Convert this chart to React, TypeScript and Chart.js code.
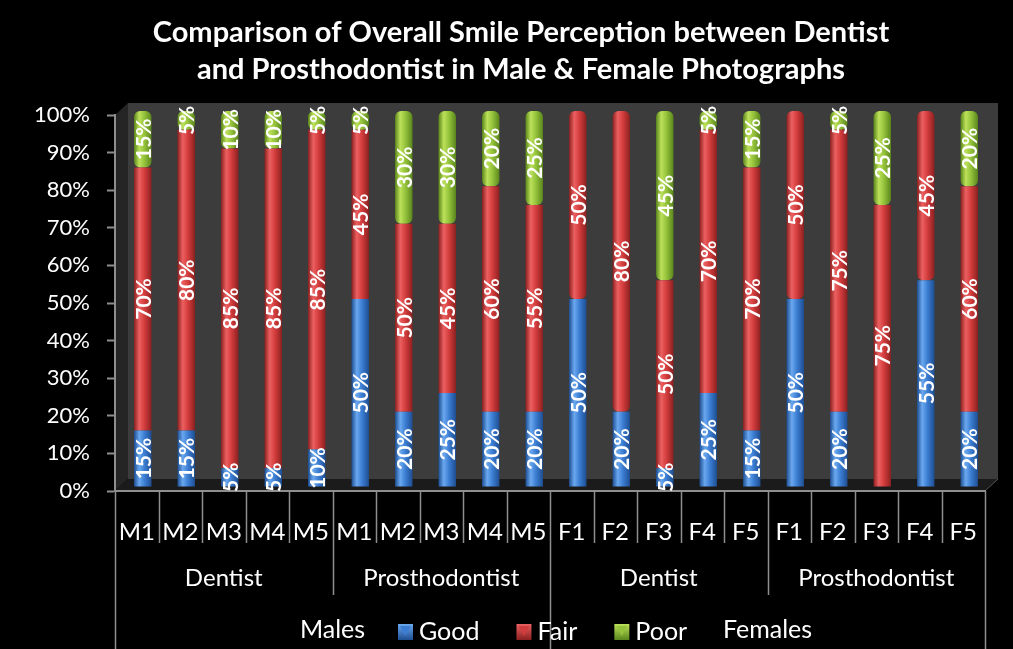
import React, { useEffect, useRef } from 'react';
import { Chart, registerables } from 'chart.js';

Chart.register(...registerables);

// ---- data ----
const categories = ['M1', 'M2', 'M3', 'M4', 'M5', 'M1', 'M2', 'M3', 'M4', 'M5', 'F1', 'F2', 'F3', 'F4', 'F5', 'F1', 'F2', 'F3', 'F4', 'F5'];
const evaluatorGroups = ['Dentist', 'Prosthodontist', 'Dentist', 'Prosthodontist'];
const genderGroups = ['Males', 'Females'];
const seriesNames = ['Good', 'Fair', 'Poor'];
const goodValues = [15, 15, 5, 5, 10, 50, 20, 25, 20, 20, 50, 20, 5, 25, 15, 50, 20, 0, 55, 20];
const fairValues = [70, 80, 85, 85, 85, 45, 50, 45, 60, 55, 50, 80, 50, 70, 70, 50, 75, 75, 45, 60];
const poorValues = [15, 5, 10, 10, 5, 5, 30, 30, 20, 25, 0, 0, 45, 5, 15, 0, 5, 25, 0, 20];
const titleLines = ['Comparison of Overall Smile Perception between Dentist', 'and Prosthodontist in Male & Female Photographs'];

// ---- style ----
const FONT = 'Lato, "Open Sans", "DejaVu Sans", sans-serif';
const palette = [
  { light: '#6aa8ef', mid: '#3b7dd2', dark: '#1e4e92' },
  { light: '#ec6061', mid: '#d33c3c', dark: '#8c2020' },
  { light: '#bde15a', mid: '#94c23b', dark: '#5a861c' },
];
const DEPTH_X = 13;
const DEPTH_Y = -12;
const BAR_SHIFT_X = 6;
const BAR_SHIFT_Y = -4;
const BAR_FRACTION = 0.4;
const LINE_GRAY = '#8e8e8e';

const makeFill = (i: number) => (c: any) => {
  const p = palette[i];
  const chart = c.chart;
  if (c.type !== 'data' || !chart.chartArea || !chart.scales.x) return p.mid;
  const xs = chart.scales.x;
  const x = xs.getPixelForValue(c.dataIndex);
  const half = ((xs.width / categories.length) * BAR_FRACTION) / 2;
  const g = chart.ctx.createLinearGradient(x - half, 0, x + half, 0);
  g.addColorStop(0, p.dark);
  g.addColorStop(0.3, p.light);
  g.addColorStop(0.6, p.mid);
  g.addColorStop(1, p.dark);
  return g;
};

const decorPlugin = {
  id: 'decor',
  beforeDraw(chart: any) {
    const { ctx, chartArea: a } = chart;
    ctx.save();
    ctx.fillStyle = '#000';
    ctx.fillRect(0, 0, chart.width, chart.height);
    // back wall
    ctx.fillStyle = '#3c3c3c';
    ctx.fillRect(a.left + DEPTH_X, a.top + DEPTH_Y, a.right - a.left, a.bottom - a.top);
    // side wall
    ctx.fillStyle = '#252525';
    ctx.beginPath();
    ctx.moveTo(a.left, a.top);
    ctx.lineTo(a.left + DEPTH_X, a.top + DEPTH_Y);
    ctx.lineTo(a.left + DEPTH_X, a.bottom + DEPTH_Y);
    ctx.lineTo(a.left, a.bottom);
    ctx.closePath();
    ctx.fill();
    // floor
    ctx.fillStyle = '#1b1b1b';
    ctx.beginPath();
    ctx.moveTo(a.left, a.bottom);
    ctx.lineTo(a.right, a.bottom);
    ctx.lineTo(a.right + DEPTH_X, a.bottom + DEPTH_Y);
    ctx.lineTo(a.left + DEPTH_X, a.bottom + DEPTH_Y);
    ctx.closePath();
    ctx.fill();
    ctx.strokeStyle = '#555';
    ctx.lineWidth = 1;
    ctx.beginPath();
    ctx.moveTo(a.right, a.bottom);
    ctx.lineTo(a.right + DEPTH_X, a.bottom + DEPTH_Y);
    ctx.stroke();
    ctx.restore();
  },
  beforeDatasetsDraw(chart: any) {
    chart.ctx.save();
    chart.ctx.translate(BAR_SHIFT_X, BAR_SHIFT_Y);
  },
  afterDatasetsDraw(chart: any) {
    const ctx = chart.ctx;
    ctx.save();
    ctx.font = `bold 21px ${FONT}`;
    ctx.fillStyle = '#ffffff';
    ctx.textAlign = 'center';
    ctx.textBaseline = 'middle';
    chart.data.datasets.forEach((ds: any, di: number) => {
      const meta = chart.getDatasetMeta(di);
      meta.data.forEach((el: any, i: number) => {
        const v = ds.data[i];
        if (!v) return;
        const { x, y, base } = el.getProps(['x', 'y', 'base'], true);
        ctx.save();
        ctx.translate(x, (y + base) / 2);
        ctx.rotate(-Math.PI / 2);
        ctx.fillText(`${v}%`, 0, 1);
        ctx.restore();
      });
    });
    ctx.restore();
    ctx.restore();
  },
  afterDraw(chart: any) {
    const { ctx, chartArea: a } = chart;
    const xs = chart.scales.x;
    const n = categories.length;
    const w = (a.right - a.left) / n;
    const bottom = chart.height;
    ctx.save();
    ctx.strokeStyle = LINE_GRAY;
    ctx.lineWidth = 1.5;
    for (let i = 0; i <= n; i++) {
      const x = xs.getPixelForValue(i) - w / 2;
      let yEnd = a.bottom + 52;
      if (i % 5 === 0) yEnd = a.bottom + 104;
      if (i % 10 === 0) yEnd = bottom;
      ctx.beginPath();
      ctx.moveTo(Math.round(x) + 0.5, a.bottom);
      ctx.lineTo(Math.round(x) + 0.5, yEnd);
      ctx.stroke();
    }
    ctx.fillStyle = '#ffffff';
    ctx.font = `24px ${FONT}`;
    ctx.textAlign = 'center';
    ctx.textBaseline = 'middle';
    evaluatorGroups.forEach((g, gi) => {
      const cx = (xs.getPixelForValue(gi * 5) + xs.getPixelForValue(gi * 5 + 4)) / 2;
      ctx.fillText(g, cx, a.bottom + 87);
    });
    ctx.font = `25px ${FONT}`;
    genderGroups.forEach((g, gi) => {
      const cx = (xs.getPixelForValue(gi * 10) + xs.getPixelForValue(gi * 10 + 9)) / 2;
      ctx.fillText(g, cx, a.bottom + 139);
    });
    // legend
    ctx.textAlign = 'left';
    let lx = 398;
    const ly = a.bottom + 141;
    seriesNames.forEach((name, i) => {
      const p = palette[i];
      const g = ctx.createLinearGradient(0, ly - 8, 0, ly + 8);
      g.addColorStop(0, p.light);
      g.addColorStop(1, p.dark);
      ctx.fillStyle = g;
      ctx.fillRect(lx, ly - 8, 15, 16);
      ctx.fillStyle = p.mid;
      ctx.beginPath();
      ctx.moveTo(lx + 2, ly - 6);
      ctx.lineTo(lx + 13, ly - 6);
      ctx.lineTo(lx + 7.5, ly + 4);
      ctx.closePath();
      ctx.fill();
      ctx.fillStyle = '#ffffff';
      ctx.fillText(name, lx + 21, ly);
      lx += 21 + ctx.measureText(name).width + 37;
    });
    ctx.restore();
  },
};

export default function App() {
  const ref = useRef<HTMLCanvasElement | null>(null);
  useEffect(() => {
    document.body.style.margin = '0';
    document.body.style.background = '#000';
    if (!ref.current) return;
    const series = [goodValues, fairValues, poorValues];
    const chart = new Chart(ref.current, {
      type: 'bar',
      data: {
        labels: categories,
        datasets: series.map((vals, i) => ({
          label: seriesNames[i],
          data: vals,
          backgroundColor: makeFill(i),
          borderWidth: 0,
          borderRadius: 6,
          borderSkipped: false,
          barPercentage: BAR_FRACTION,
          categoryPercentage: 1,
          clip: false as any,
        })),
      },
      options: {
        animation: false,
        responsive: true,
        maintainAspectRatio: false,
        layout: { padding: { left: 29, right: 0, top: 0, bottom: 0 } },
        plugins: {
          legend: { display: false },
          tooltip: { enabled: false },
          title: {
            display: true,
            text: titleLines,
            color: '#ffffff',
            font: { family: FONT, size: 29, weight: 'bold', lineHeight: 1.276 },
            padding: { top: 14, bottom: 27 },
          },
        },
        scales: {
          x: {
            stacked: true,
            grid: { display: false },
            border: { display: true, color: LINE_GRAY, width: 2 },
            ticks: {
              color: '#ffffff',
              font: { family: FONT, size: 24 },
              padding: 19,
              autoSkip: false,
              maxRotation: 0,
            },
            afterFit: (s: any) => {
              s.height = 158;
            },
          },
          y: {
            stacked: true,
            min: 0,
            max: 100,
            grid: { drawOnChartArea: false, drawTicks: true, tickLength: 8, tickColor: LINE_GRAY, tickWidth: 2 },
            border: { display: true, color: LINE_GRAY, width: 2 },
            ticks: {
              stepSize: 10,
              color: '#ffffff',
              font: { family: FONT, size: 22 },
              padding: 17,
              callback: (v: any) => `${v}%`,
            },
            afterFit: (s: any) => {
              s.width = 86;
            },
          },
          yRight: {
            position: 'right',
            display: true,
            grid: { display: false },
            border: { display: false },
            ticks: { display: false },
            afterFit: (s: any) => {
              s.width = 28;
            },
          },
        },
      },
      plugins: [decorPlugin],
    });
    return () => chart.destroy();
  }, []);
  return (
    <div style={{ position: 'relative', width: 1013, height: 649, background: '#000' }}>
      <canvas ref={ref} />
    </div>
  );
}
